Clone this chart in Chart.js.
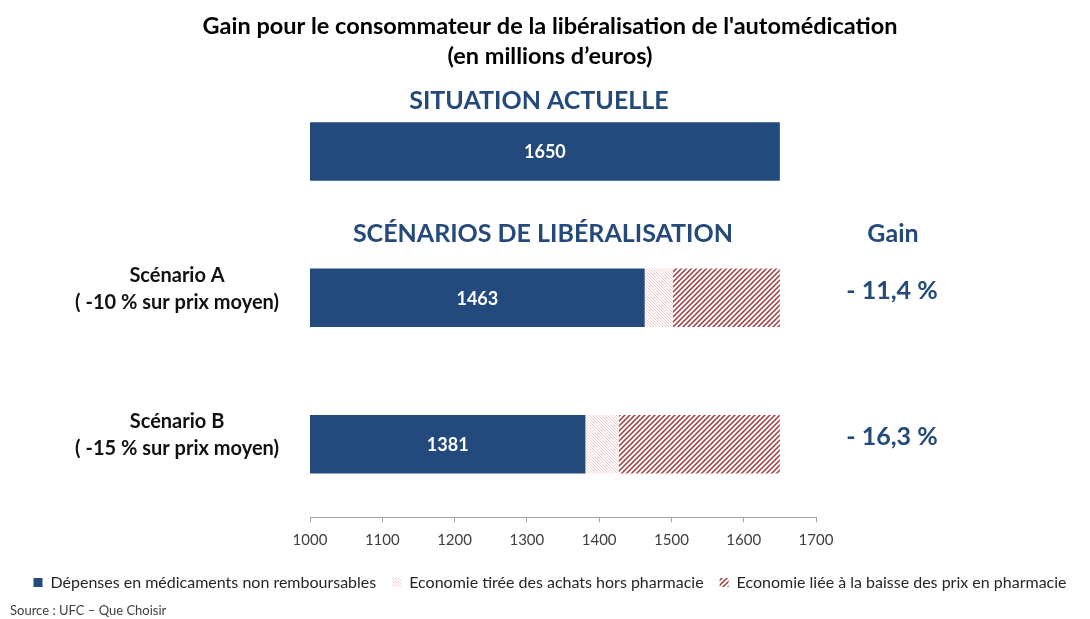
<!DOCTYPE html>
<html lang="fr">
<head>
<meta charset="UTF-8">
<title>Gain pour le consommateur - automédication</title>
<script src="https://cdn.jsdelivr.net/npm/chart.js"></script>
<style>
  body { margin: 0; background: #fff; }
  #wrap { width: 1090px; height: 619px; }
</style>
</head>
<body>
<div id="wrap"><canvas id="gainChart" width="1090" height="619"></canvas></div>
<script>
// data
const categories = ['', ['Scénario A', '( -10 % sur prix moyen)'], ['Scénario B', '( -15 % sur prix moyen)']];
const depenses = [1650, 1463, 1381];
const economieHors = [0, 39, 46];
const economieBaisse = [0, 148, 223];
const gains = ['', '- 11,4 %', '- 16,3 %'];
const sectionTitles = ['SITUATION ACTUELLE', 'SCÉNARIOS DE LIBÉRALISATION'];
const gainTitle = 'Gain';
const seriesNames = [
    'Dépenses en médicaments non remboursables',
    'Economie tirée des achats hors pharmacie',
    'Economie liée à la baisse des prix en pharmacie'
];

const FONT = 'Lato';
const NAVY = '#234a7d';
const HEAD_BLUE = '#24497b';

function hatch(size, color, width, dir) {
    const c = document.createElement('canvas');
    c.width = c.height = size;
    const g = c.getContext('2d');
    g.fillStyle = '#fff';
    g.fillRect(0, 0, size, size);
    g.strokeStyle = color;
    g.lineWidth = width;
    g.beginPath();
    if (dir === '/') {
        g.moveTo(0, size); g.lineTo(size, 0);
        g.moveTo(-2, 2); g.lineTo(2, -2);
        g.moveTo(size - 2, size + 2); g.lineTo(size + 2, size - 2);
    } else {
        g.moveTo(0, 0); g.lineTo(size, size);
        g.moveTo(size - 2, -2); g.lineTo(size + 2, 2);
        g.moveTo(-2, size - 2); g.lineTo(2, size + 2);
    }
    g.stroke();
    return g.createPattern(c, 'repeat');
}

const lightPattern = hatch(3, '#efbcbc', 0.8, '\\');
const darkPattern = hatch(5, '#a2383b', 1.5, '/');

// labels and headings drawn on top of the bars
const annotations = {
    id: 'annotations',
    afterDatasetsDraw(chart) {
        const { ctx, chartArea, scales: { x, y } } = chart;
        const navy = chart.getDatasetMeta(0);
        ctx.save();
        ctx.textAlign = 'center';
        ctx.textBaseline = 'middle';

        ctx.fillStyle = '#fff';
        ctx.font = 'bold 18px ' + FONT;
        navy.data.forEach((bar, i) => {
            const left = Math.max(bar.base, chartArea.left);
            ctx.fillText(depenses[i], (left + bar.x) / 2, bar.y + 1);
        });

        ctx.fillStyle = HEAD_BLUE;
        ctx.font = 'bold 25px ' + FONT;
        const mid = (x.getPixelForValue(1000) + x.getPixelForValue(depenses[0])) / 2;
        ctx.fillText(sectionTitles[0], mid - 6, y.getPixelForValue(0) - 50);
        ctx.fillText(sectionTitles[1], mid - 2, y.getPixelForValue(1) - 64);

        const gx = x.getPixelForValue(1700) + 77;
        ctx.fillText(gainTitle, gx, y.getPixelForValue(1) - 64);
        gains.forEach((g, i) => {
            if (g) ctx.fillText(g, gx - 1, y.getPixelForValue(i) - 7);
        });
        ctx.restore();
    }
};

const ctx = document.getElementById('gainChart').getContext('2d');
new Chart(ctx, {
    type: 'bar',
    data: {
        labels: categories,
        datasets: [
            { label: seriesNames[0], data: depenses, backgroundColor: NAVY },
            { label: seriesNames[1], data: economieHors, backgroundColor: lightPattern },
            { label: seriesNames[2], data: economieBaisse, backgroundColor: darkPattern }
        ]
    },
    options: {
        indexAxis: 'y',
        responsive: false,
        animation: false,
        barPercentage: 0.4,
        categoryPercentage: 1,
        layout: { padding: { left: 10 } },
        scales: {
            x: {
                stacked: true,
                min: 1000,
                max: 1700,
                ticks: {
                    stepSize: 100,
                    color: '#404040',
                    font: { family: FONT, size: 15 },
                    padding: 9,
                    callback: v => String(v)
                },
                grid: { drawOnChartArea: false, drawTicks: true, tickLength: 5, color: '#a6a6a6' },
                border: { color: '#a6a6a6' }
            },
            y: {
                stacked: true,
                grid: { display: false },
                border: { display: false },
                ticks: {
                    crossAlign: 'center',
                    color: '#111',
                    font: { family: FONT, size: 20, weight: 'bold', lineHeight: 1.35 },
                    padding: 23,
                    labelOffset: -9
                },
                afterFit(scale) { scale.width = 300; }
            },
            // empty scale on the right keeps room for the "Gain" column
            yRight: {
                type: 'category',
                position: 'right',
                grid: { display: false },
                border: { display: false },
                ticks: { display: false },
                afterFit(scale) { scale.width = 274; }
            }
        },
        plugins: {
            title: {
                display: true,
                text: ['Gain pour le consommateur de la libéralisation de l\'automédication', '(en millions d’euros)'],
                color: '#000',
                font: { family: FONT, size: 23.5, weight: 'bold', lineHeight: 1.26 },
                padding: { top: 12, bottom: 7 }
            },
            subtitle: {
                display: true,
                position: 'bottom',
                align: 'start',
                text: 'Source : UFC – Que Choisir',
                color: '#404040',
                font: { family: FONT, size: 13 },
                padding: { top: 3, bottom: 0 }
            },
            legend: {
                position: 'bottom',
                labels: {
                    color: '#262626',
                    font: { family: FONT, size: 16 },
                    boxWidth: 9,
                    boxHeight: 9,
                    padding: 16
                }
            },
            tooltip: { enabled: false }
        }
    },
    plugins: [annotations]
});
</script>
</body>
</html>
